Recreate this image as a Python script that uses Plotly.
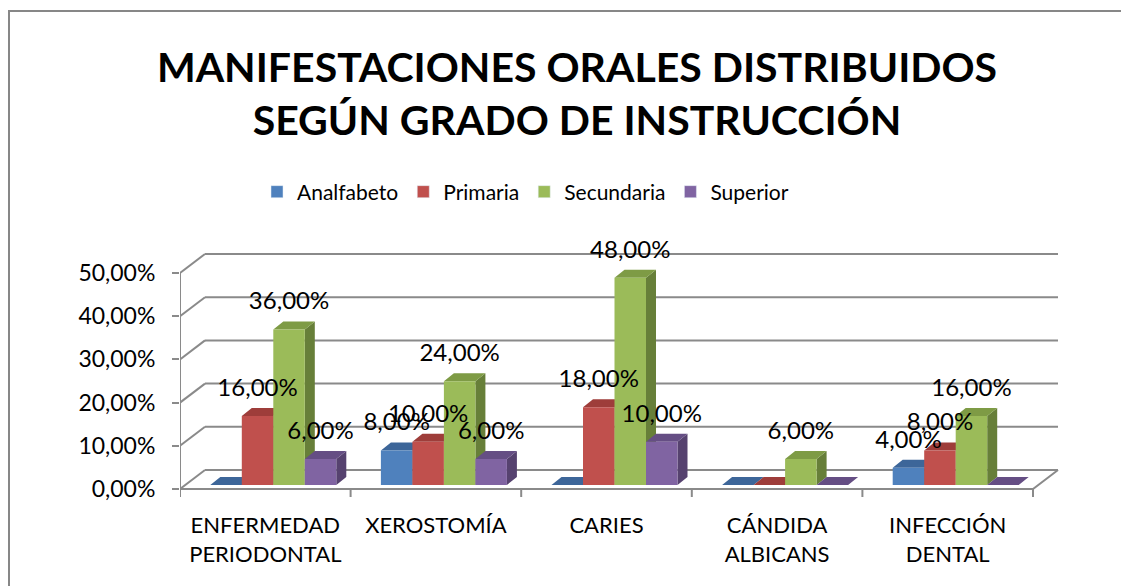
import plotly.graph_objects as go

# ---------------- data ----------------
categories = ["ENFERMEDAD PERIODONTAL", "XEROSTOMÍA", "CARIES", "CÁNDIDA ALBICANS", "INFECCIÓN DENTAL"]
tick_labels = ["ENFERMEDAD<br>PERIODONTAL", "XEROSTOMÍA", "CARIES", "CÁNDIDA<br>ALBICANS", "INFECCIÓN<br>DENTAL"]
series_names = ["Analfabeto", "Primaria", "Secundaria", "Superior"]
analfabeto = [0, 8, 0, 0, 4]
primaria = [16, 10, 18, 0, 8]
secundaria = [36, 24, 48, 6, 16]
superior = [6, 6, 10, 0, 0]
y_ticks = [0, 10, 20, 30, 40, 50]
title_lines = ["MANIFESTACIONES ORALES DISTRIBUIDOS", "SEGÚN GRADO DE INSTRUCCIÓN"]

series_values = [analfabeto, primaria, secundaria, superior]

# ---------------- styles ----------------
front_colors = ["#4F81BD", "#C0504D", "#9BBB59", "#8064A2"]
top_colors = ["#3D6699", "#9E3D3A", "#7E9B45", "#654E84"]
side_colors = ["#34577F", "#853330", "#677F39", "#56426F"]
grid_color = "#8A8A8A"
FONT = "Lato"

OFF = 8                                   # default page body margin
W, H = 1129 - OFF, 586 - OFF
L, R, T, B = 180 - OFF, 1070 - OFF, 240 - OFF, 500 - OFF   # plot area in pixels
PX_X = 170.6                              # pixels per category
PX_Y = 4.32                               # pixels per percent
ZERO_PX = 489 - OFF                       # pixel row of 0 % on front plane

x_range = [-0.5, -0.5 + (R - L) / PX_X]
y_range = [(ZERO_PX - B) / PX_Y, (ZERO_PX - T) / PX_Y]

DX, DY = 25 / PX_X, 19 / PX_Y             # depth of floor / walls
BW = 31.5 / PX_X                          # bar width
SHIFT = 8 / PX_X                          # group shift (perspective)
B0 = 4 / PX_Y                             # bar base lift (depth)
ddx, ddy = 10 / PX_X, 8 / PX_Y            # bar depth
LABEL_OFF = 26 / PX_Y
TICK_LEN = 8 / PX_Y

n_cat = len(categories)
x_left, x_right = -0.5, n_cat - 0.5

fig = go.Figure()

# ---- walls / floor / gridlines ----
gx, gy = [], []
for v in y_ticks:
    gx += [x_left + DX, x_right + DX, None, x_left, x_left + DX, None]
    gy += [v + DY, v + DY, None, v, v + DY, None]
gx += [x_left, x_right, x_right + DX, None, x_left, x_left, None]
gy += [0, 0, DY, None, 0, max(y_ticks), None]
for k in range(n_cat + 1):
    gx += [x_left + k, x_left + k, None]
    gy += [0, -TICK_LEN, None]
fig.add_trace(go.Scatter(x=gx, y=gy, mode="lines", line=dict(color=grid_color, width=2),
                         hoverinfo="skip", showlegend=False))

# ---- 3D bars ----
lab_x, lab_y, lab_t = [], [], []
for i, (name, vals) in enumerate(zip(series_names, series_values)):
    sx, sy, tx, ty, fx, fy = [], [], [], [], [], []
    for c, v in enumerate(vals):
        xl = c + SHIFT - 2 * BW + i * BW
        xr = xl + BW
        top = B0 + v
        sx += [xr, xr + ddx, xr + ddx, xr, xr, None]
        sy += [B0, B0 + ddy, top + ddy, top, B0, None]
        tx += [xl, xr, xr + ddx, xl + ddx, xl, None]
        ty += [top, top, top + ddy, top + ddy, top, None]
        fx += [xl, xr, xr, xl, xl, None]
        fy += [B0, B0, top, top, B0, None]
        if v > 0:
            lab_x.append(xl + BW / 2)
            lab_y.append(top + LABEL_OFF)
            lab_t.append(f"{v:.2f}%".replace(".", ","))
    fig.add_trace(go.Scatter(x=sx, y=sy, mode="none", fill="toself", fillcolor=side_colors[i],
                             hoverinfo="skip", showlegend=False))
    fig.add_trace(go.Scatter(x=tx, y=ty, mode="none", fill="toself", fillcolor=top_colors[i],
                             hoverinfo="skip", showlegend=False))
    fig.add_trace(go.Scatter(x=fx, y=fy, mode="none", fill="toself", fillcolor=front_colors[i],
                             name=name, hoverinfo="skip", showlegend=False))
    fig.add_trace(go.Bar(x=[None], y=[None], name=name, marker=dict(color=front_colors[i])))

fig.add_trace(go.Scatter(x=lab_x, y=lab_y, text=lab_t, mode="text",
                         textfont=dict(family=FONT, size=24, color="#000000"),
                         hoverinfo="skip", showlegend=False, cliponaxis=False))

# ---- outer border ----
def px2paper_x(p):
    return (p - L) / (R - L)

def px2paper_y(p):
    return (B - p) / (B - T)

fig.add_shape(type="rect", xref="paper", yref="paper",
              x0=px2paper_x(1), x1=px2paper_x(W + 20), y0=px2paper_y(H + 20), y1=px2paper_y(11 - OFF),
              line=dict(color="#878787", width=2), fillcolor="rgba(0,0,0,0)", layer="below")

fig.update_layout(
    width=W, height=H,
    paper_bgcolor="white", plot_bgcolor="white",
    margin=dict(l=L, r=W - R, t=T, b=H - B),
    title=dict(text="<br>".join(title_lines), x=(577 - OFF) / W, xanchor="center",
               y=1 - (82 - OFF) / H, yanchor="middle", xref="container", yref="container",
               font=dict(family=FONT, size=41, color="#000000", weight="bold")),
    legend=dict(orientation="h", xref="container", yref="container",
                x=(257 - OFF) / W, xanchor="left", y=1 - (192 - OFF) / H, yanchor="middle",
                font=dict(family=FONT, size=21, color="#000000"),
                itemwidth=30, traceorder="normal"),
    showlegend=True,
    xaxis=dict(range=x_range, showgrid=False, zeroline=False, showline=False,
               tickmode="array", tickvals=list(range(n_cat)), ticktext=tick_labels,
               ticks="", tickfont=dict(family=FONT, size=22, color="#000000"),
               ticklabelstandoff=10, fixedrange=True),
    yaxis=dict(range=y_range, showgrid=False, zeroline=False, showline=False,
               tickmode="array", tickvals=y_ticks,
               ticktext=[f"{v:.2f}%".replace(".", ",") for v in y_ticks],
               ticks="outside", ticklen=7, tickwidth=2, tickcolor=grid_color,
               tickfont=dict(family=FONT, size=23, color="#000000"),
               ticklabelstandoff=12, fixedrange=True),
)

fig.write_html("out.html")
